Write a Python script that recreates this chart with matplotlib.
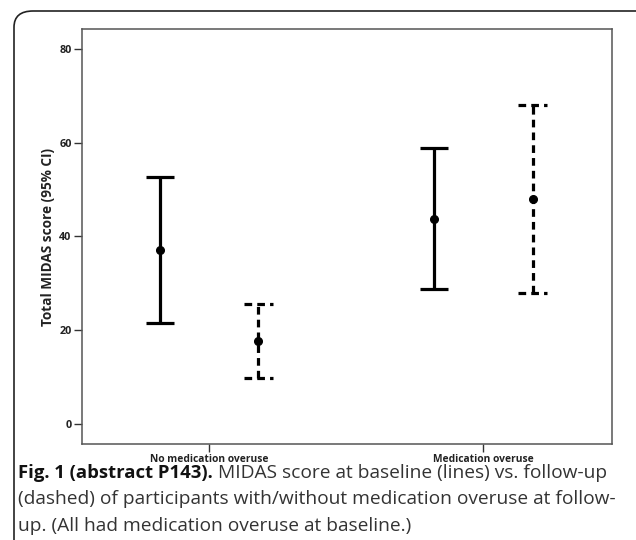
import matplotlib
matplotlib.use("Agg")
import matplotlib.pyplot as plt
from matplotlib.patches import FancyBboxPatch

plt.rcParams['font.family'] = 'Open Sans'

# MIDAS score, mean with 95% CI
groups = ['No medication overuse', 'Medication overuse']
base_mean = [37.2, 43.8]
base_lo = [21.6, 28.8]
base_hi = [52.8, 58.9]
follow_mean = [17.7, 48.0]
follow_lo = [9.7, 28.0]
follow_hi = [25.5, 68.0]

yticks = [0, 20, 40, 60, 80]

caption_bold = "Fig. 1 (abstract P143)."
caption_lines = [" MIDAS score at baseline (lines) vs. follow-up",
                 "(dashed) of participants with/without medication overuse at follow-",
                 "up. (All had medication overuse at baseline.)"]

fig = plt.figure(figsize=(6.36, 5.40), dpi=100)

# rounded frame round the figure panel
frame = FancyBboxPatch((14/636, -0.2), 1.2, 1 - 11/540 + 0.2,
                       boxstyle="round,pad=0,rounding_size=0.03",
                       transform=fig.transFigure, fill=False,
                       edgecolor='#222222', linewidth=1.2)
fig.patches.append(frame)

ax = fig.add_axes([82/636, 1 - 444/540, 530/636, 415/540])

off = 0.18
cap = 0.052
lw = 2.3
xs = list(range(len(groups)))

for i in xs:
    # baseline: solid
    x = i - off
    ax.vlines(x, base_lo[i], base_hi[i], color='black', lw=lw)
    ax.hlines([base_lo[i], base_hi[i]], x - cap, x + cap, color='black', lw=lw)
    ax.plot(x, base_mean[i], 'o', color='black', ms=5.5)
    # follow-up: dashed
    x = i + off
    ax.vlines(x, follow_lo[i], follow_hi[i], color='black', lw=lw,
              linestyles=(0, (2.4, 1.6)))
    ax.hlines([follow_lo[i], follow_hi[i]], x - cap, x + cap, color='black', lw=lw,
              linestyles=(0, (2.4, 1.6)))
    ax.plot(x, follow_mean[i], 'o', color='black', ms=5.5)

ax.set_xlim(-0.464, 1.47)
ax.set_ylim(-4.3, 84.3)
ax.set_xticks(xs)
ax.set_xticklabels(groups, fontsize=7.4, fontweight='bold', color='#222222')
ax.set_yticks(yticks)
ax.set_yticklabels([str(t) for t in yticks], fontsize=7.8, fontweight='bold', color='#222222')
ax.tick_params(axis='both', direction='out', length=6, width=1, color='#333333', pad=1.5)
ax.tick_params(axis='x', pad=1)
for s in ax.spines.values():
    s.set_color('#555555')
    s.set_linewidth(1.1)
ax.set_ylabel('Total MIDAS score (95% CI)', fontsize=9.8, fontweight='bold',
              color='#222222', labelpad=3)

# caption under the chart, bold lead-in then plain text
fs = 13.75
y0 = 1 - 478/540
dy = 26.5/540
t = fig.text(18/636, y0, caption_bold, fontsize=13.3, fontweight='bold',
             color='#111111', va='baseline', ha='left')
fig.canvas.draw()
bb = t.get_window_extent(fig.canvas.get_renderer())
fig.text(bb.x1/636, y0, caption_lines[0], fontsize=fs, color='#333333', va='baseline', ha='left')
fig.text(18/636, y0 - dy, caption_lines[1], fontsize=fs, color='#333333', va='baseline', ha='left')
fig.text(18/636, y0 - 2*dy, caption_lines[2], fontsize=fs, color='#333333', va='baseline', ha='left')

fig.savefig('out.png', dpi=100)
